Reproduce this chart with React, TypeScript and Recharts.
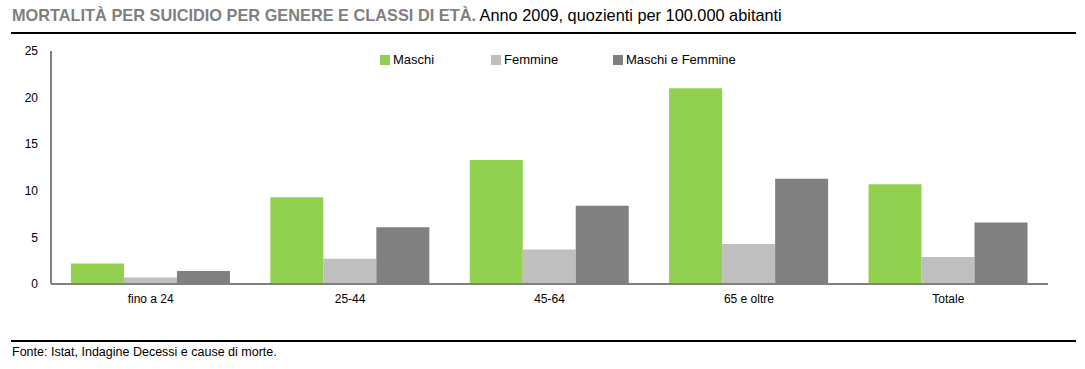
import { BarChart, Bar, XAxis, YAxis } from "recharts";

// Anno 2009, quozienti per 100.000 abitanti
const CLASSI = ["fino a 24", "25-44", "45-64", "65 e oltre", "Totale"];
const MASCHI = [2.2, 9.3, 13.3, 21.0, 10.7];
const FEMMINE = [0.7, 2.7, 3.7, 4.3, 2.9];
const TOTALE = [1.4, 6.1, 8.4, 11.3, 6.6];
const Y_TICKS = [0, 5, 10, 15, 20, 25];

const SERIES = [
  { key: "maschi", name: "Maschi", color: "#92d050" },
  { key: "femmine", name: "Femmine", color: "#bfbfbf" },
  { key: "tutti", name: "Maschi e Femmine", color: "#808080" },
];

const data = CLASSI.map((c, i) => ({
  classe: c,
  maschi: MASCHI[i],
  femmine: FEMMINE[i],
  tutti: TOTALE[i],
}));

const SANS = "'Liberation Sans', Arial, sans-serif";
const AXIS = "#808080";

// legend items sit at fixed offsets like the original
const LEGEND_X = [380, 491, 613];

export default function App() {
  return (
    <div
      style={{
        position: "absolute",
        left: 0,
        top: 0,
        width: 1085,
        height: 369,
        background: "#fff",
        overflow: "hidden",
      }}
    >
      {/* title, slightly condensed like Arial Narrow */}
      <div
        style={{
          position: "absolute",
          left: 12,
          top: 6,
          fontFamily: SANS,
          fontSize: 17,
          whiteSpace: "nowrap",
          lineHeight: "20px",
          transform: "scaleX(0.96)",
          transformOrigin: "left top",
        }}
      >
        <span style={{ color: "#7f7f7f", fontWeight: "bold" }}>
          MORTALITÀ PER SUICIDIO PER GENERE E CLASSI DI ETÀ.
        </span>
        <span style={{ color: "#000" }}> Anno 2009, quozienti per 100.000 abitanti</span>
      </div>
      <div style={{ position: "absolute", left: 11, top: 32, width: 1065, height: 2, background: "#000" }} />

      <div style={{ position: "absolute", left: 0, top: 0 }}>
        <BarChart
          width={1085}
          height={369}
          data={data}
          margin={{ top: 51, right: 37, bottom: 55, left: 11 }}
          barCategoryGap="10%"
          barGap={0}
        >
          <XAxis
            dataKey="classe"
            height={30}
            axisLine={{ stroke: AXIS, strokeWidth: 2 }}
            tickLine={false}
            tickSize={0}
            tickMargin={10}
            tick={{ fontFamily: SANS, fontSize: 12, fill: "#000" }}
          />
          <YAxis
            width={40}
            domain={[0, 25]}
            ticks={Y_TICKS}
            interval={0}
            axisLine={{ stroke: AXIS, strokeWidth: 2 }}
            tickLine={false}
            tickSize={0}
            tickMargin={13}
            tick={{ fontFamily: SANS, fontSize: 12, fill: "#000" }}
          />
          {SERIES.map((s) => (
            <Bar
              key={s.key}
              dataKey={s.key}
              name={s.name}
              fill={s.color}
              isAnimationActive={false}
            />
          ))}
        </BarChart>
      </div>

      {/* legend */}
      {SERIES.map((s, i) => (
        <div
          key={s.key}
          style={{
            position: "absolute",
            left: LEGEND_X[i],
            top: 52,
            display: "flex",
            alignItems: "center",
            gap: 3,
            fontFamily: SANS,
            fontSize: 13,
            color: "#000",
            whiteSpace: "nowrap",
          }}
        >
          <span style={{ width: 10, height: 10, background: s.color, display: "inline-block" }} />
          <span>{s.name}</span>
        </div>
      ))}

      <div style={{ position: "absolute", left: 11, top: 340, width: 1065, height: 2, background: "#000" }} />
      <div
        style={{
          position: "absolute",
          left: 12,
          top: 345,
          fontFamily: SANS,
          fontSize: 12.5,
          color: "#000",
          whiteSpace: "nowrap",
        }}
      >
        Fonte: Istat, Indagine Decessi e cause di morte.
      </div>
    </div>
  );
}
